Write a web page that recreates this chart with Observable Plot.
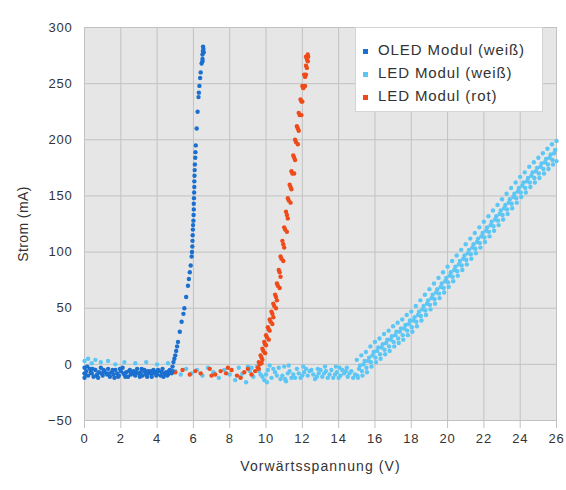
<!DOCTYPE html>
<html>
<head>
<meta charset="utf-8">
<script src="https://cdn.jsdelivr.net/npm/d3@7"></script>
<script src="https://cdn.jsdelivr.net/npm/@observablehq/plot@0.6"></script>
<style>
  body { margin: 0; background: #fff; font-family: "Liberation Sans", Arial, sans-serif; }
  #wrap { position: relative; width: 566px; height: 490px; }
  #legend { position: absolute; left: 355px; top: 27px; width: 188px; height: 85px; background: #fff;
    border: 1px solid #d4d4d4; box-sizing: border-box; padding: 10px 0 0 7px; font-size: 15px; color: #333;
    letter-spacing: 0.9px; }
  #legend div { height: 23px; line-height: 23px; white-space: nowrap; }
  #legend span.sw { display: inline-block; width: 5px; height: 5px; margin-right: 10px; vertical-align: middle; }
  g[aria-label="x-axis tick label"] text, g[aria-label="y-axis tick label"] text { letter-spacing: 0.8px; }
  g[aria-label="x-axis label"] text { letter-spacing: 1.1px; }
  g[aria-label="y-axis label"] text { letter-spacing: 0.4px; }
</style>
</head>
<body>
<div id="wrap"><div id="chart"></div><div id="legend"></div></div>
<script>
const seriesNames = ["OLED Modul (weiß)", "LED Modul (weiß)", "LED Modul (rot)"];
const seriesColors = ["#1a6fcf", "#5cc6f5", "#ef4b1a"];
const xTicks = [0, 2, 4, 6, 8, 10, 12, 14, 16, 18, 20, 22, 24, 26];
const yTicks = [-50, 0, 50, 100, 150, 200, 250, 300];

// OLED Modul (weiß): [Spannung V, Strom mA]
const oledPoints = [
  [0,-8],[0,-3],[0,-12],[0.1,-6],[0.2,-10],[0.3,-4],[0.4,-8],[0.5,-11],[0.6,-5],[0.7,-9],[0.8,-7],[0.9,-3],
  [1.0,-10],[1.1,-6],[1.2,-8],[1.3,-4],[1.4,-11],[1.5,-7],[1.6,-9],[1.7,-5],[1.8,-8],[1.9,-10],[2.0,-6],
  [2.1,-3],[2.2,-9],[2.3,-7],[2.4,-11],[2.5,-5],[2.6,-8],[2.7,-6],[2.8,-10],[2.9,-4],[3.0,-8],[3.1,-7],
  [3.2,-10],[3.3,-5],[3.4,-9],[3.5,-6],[3.6,-8],[3.7,-11],[3.8,-5],[3.9,-7],[4.0,-9],[4.1,-6],[4.2,-10],
  [4.3,-4],[4.4,-8],[4.5,-7],[4.6,-9],[4.7,-5],[4.8,-8],[4.85,-6],
  [0.05,-9],[0.35,-7],[0.65,-10],[0.95,-8],[1.25,-9],[1.55,-5],[1.85,-11],[2.15,-8],[2.45,-6],[2.75,-9],
  [3.05,-11],[3.35,-7],[3.65,-6],[3.95,-10],[4.25,-7],[4.55,-10],[4.75,-7],
  [0.15,-2],[0.45,-4],[0.75,-12],[1.05,-5],[1.35,-8],[1.65,-12],[1.95,-4],[2.25,-11],[2.55,-9],[2.85,-7],
  [3.15,-4],[3.45,-11],[3.75,-8],[4.05,-5],[4.35,-11],[4.65,-6],
  [4.85,-2],[4.9,2],[4.95,5],[5.0,8],[5.05,12],[5.1,16],[5.15,20],[5.25,29],[5.35,38],[5.45,45],[5.5,50],
  [5.6,60],[5.7,70],[5.75,76],[5.8,82],[5.85,88],[5.9,96],[5.92,100],[5.94,105],[5.95,110],[5.96,115],
  [5.97,120],[5.98,124],[6.0,128],[6.01,133],[6.02,138],[6.02,143],[6.03,148],[6.04,153],[6.05,158],
  [6.05,163],[6.06,168],[6.07,173],[6.08,178],[6.1,184],[6.11,189],[6.13,195],[6.18,210],[6.23,225],
  [6.28,238],[6.3,242],[6.33,248],[6.37,255],[6.4,260],[6.45,268],[6.5,272],[6.5,276],[6.52,279],
  [6.55,281],[6.53,283],[6.57,278],[6.5,270]
];

// LED Modul (weiß)
const ledWeissPoints = [
  [0,3],[0.2,5],[0.4,1],[0.6,4],[0.9,2],[1.3,3],[1.7,0],[2.2,2],[2.8,1],[3.4,2],[4.0,0],[4.6,1],
  [5.0,-6],[5.3,-9],[5.6,-4],[5.9,-8],[6.2,-5],[6.5,-10],[6.8,-3],[7.1,-7],[7.4,-12],[7.7,-5],[8.0,-9],
  [8.3,-14],[8.5,-3],[8.7,-8],[8.9,-16],[9.1,-6],[9.3,-11],[9.5,-2],[9.7,-9],[9.9,-14],[10.1,-5],[10.3,-12],
  [10.5,-7],[10.7,-3],[10.9,-10],[11.1,-15],[11.3,-6],[11.5,-9],[11.7,-4],[11.9,-12],[12.1,-7],[12.3,-10],
  [12.5,-5],[12.7,-13],[12.9,-8],[13.1,-11],[13.3,-6],[13.5,-9],[13.7,-12],[13.9,-7],[14.1,-10],[14.3,-8],
  [14.5,-11],[14.7,-6],[14.9,-9],
  [8.6,-11],[9.0,-2],[10.0,-9],[10.2,-1],[10.8,-13],[11.0,-2],[11.4,-12],[11.8,-8],[12.2,-4],[12.6,-9],
  [13.0,-5],[13.4,-12],[13.8,-9],[14.2,-5],[14.6,-8],[14.8,-12],
  [9.6,-6],[9.8,-11],[10.4,-4],[10.6,-10],[11.2,-8],[11.6,-12],[12.0,-10],[12.4,-6],[12.8,-11],[13.2,-8],
  [13.6,-5],[14.0,-12],[14.4,-6],[9.2,-3],[10.05,-16],[11.05,-13],[11.25,-1],[12.05,-2],[13.25,-2],
  [14.05,-3],[14.45,-3],[13.85,-2],[12.85,-4],
  [15.0,4],[15.25,8],[15.5,11],[15.75,16],[16.0,20],[16.25,23],[16.5,27],[16.75,30],[17.0,34],[17.25,37],
  [17.5,40],[17.75,44],[18.0,47],[18.25,52],[18.5,57],[18.75,62],[19.0,67],[19.25,72],[19.5,77],[19.75,82],
  [20.0,87],[20.25,92],[20.5,97],[20.75,102],[21.0,107],[21.25,112],[21.5,117],[21.75,122],[22.0,127],
  [22.25,132],[22.5,137],[22.75,142],[23.0,147],[23.25,152],[23.5,157],[23.75,162],[24.0,167],[24.25,171],
  [24.5,176],[24.75,180],[25.0,184],[25.25,188],[25.5,192],[25.75,196],[26.0,199],
  [15.18,-1],[15.43,3],[15.68,6],[15.93,11],[16.18,15],[16.43,18],[16.68,22],[16.93,25],[17.18,29],
  [17.43,32],[17.68,35],[17.93,39],[18.18,42],[18.43,47],[18.68,52],[18.93,57],[19.18,62],[19.43,67],
  [19.68,72],[19.93,77],[20.18,82],[20.43,87],[20.68,92],[20.93,97],[21.18,102],[21.43,107],[21.68,112],
  [21.93,117],[22.18,122],[22.43,127],[22.68,132],[22.93,137],[23.18,142],[23.43,147],[23.68,152],
  [23.93,157],[24.18,162],[24.43,166],[24.68,171],[24.93,175],[25.18,179],[25.43,183],[25.68,187],[25.93,191],
  [15.12,-4],[15.37,0],[15.62,3],[15.87,8],[16.12,12],[16.37,15],[16.62,19],[16.87,22],[17.12,26],[17.37,29],
  [17.62,32],[17.87,36],[18.12,39],[18.37,44],[18.62,49],[18.87,54],[19.12,59],[19.37,64],[19.62,69],
  [19.87,74],[20.12,79],[20.37,84],[20.62,89],[20.87,94],[21.12,99],[21.37,104],[21.62,109],[21.87,114],
  [22.12,119],[22.37,124],[22.62,129],[22.87,134],[23.12,139],[23.37,144],[23.62,149],[23.87,154],
  [24.12,159],[24.37,163],[24.62,168],[24.87,172],[25.12,176],[25.37,180],[25.62,184],[25.87,188],
  [15.03,-10],[15.28,-6],[15.53,-3],[15.78,2],[16.03,6],[16.28,9],[16.53,13],[16.78,16],[17.03,20],
  [17.28,23],[17.53,26],[17.78,30],[18.03,33],[18.28,38],[18.53,43],[18.78,48],[19.03,53],[19.28,58],
  [19.53,63],[19.78,68],[20.03,73],[20.28,78],[20.53,83],[20.78,88],[21.03,93],[21.28,98],[21.53,103],
  [21.78,108],[22.03,113],[22.28,118],[22.53,123],[22.78,128],[23.03,133],[23.28,138],[23.53,143],
  [23.78,148],[24.03,153],[24.28,157],[24.53,162],[24.78,166],[25.03,170],[25.28,174],[25.53,178],[25.78,182],
  [15.06,-12],[15.31,-10],[15.56,-7],[15.81,-2],[16.06,2],[16.31,5],[16.56,9],[16.81,12],[17.06,16],
  [17.31,19],[17.56,22],[17.81,26],[18.06,29],[18.31,34],[18.56,39],[18.81,44],[19.06,49],[19.31,54],
  [19.56,59],[19.81,64],[20.06,69],[20.31,74],[20.56,79],[20.81,84],[21.06,89],[21.31,94],[21.56,99],
  [21.81,104],[22.06,109],[22.31,114],[22.56,119],[22.81,124],[23.06,129],[23.31,134],[23.56,139],
  [23.81,144],[24.06,149],[24.31,153],[24.56,158],[24.81,162],[25.06,166],[25.31,170],[25.56,174],
  [25.81,178],[26.0,181]
];

// LED Modul (rot)
const ledRotPoints = [
  [5.0,-7],[5.4,-5],[5.8,-9],[6.1,-6],[6.4,-8],[6.9,-4],[7.2,-9],[7.5,-6],[7.8,-8],[8.1,-5],[8.4,-10],
  [8.8,-7],[9.0,-4],[9.2,-9],[9.4,-6],[7.0,-10],[7.9,-3],[8.6,-12],
  [9.55,-3],[9.6,2],[9.7,8],[9.8,14],[9.9,20],[10.0,26],[10.1,33],[10.2,40],[10.3,47],[10.4,54],[10.5,62],
  [10.6,72],[10.7,84],[10.8,96],[10.9,110],[11.0,122],[11.1,136],[11.2,148],[11.3,160],[11.4,172],
  [11.5,186],[11.6,200],[11.7,212],[11.8,224],[11.9,236],[12.0,248],[12.1,258],[12.2,266],[12.25,272],
  [12.3,276],[12.2,274],[12.3,270],
  [9.65,0],[9.75,6],[9.85,12],[9.95,18],[10.05,24],[10.15,31],[10.25,38],[10.35,45],[10.45,52],[10.55,60],
  [10.65,70],[10.75,82],[10.85,94],[10.95,107],[11.05,120],[11.15,133],[11.25,146],[11.35,158],[11.45,170],
  [11.55,184],[11.65,198],[11.75,210],[11.85,222],[11.95,234],[12.05,246],[12.15,256],[12.25,264],
  [9.75,1],[9.95,10],[10.15,22],[10.35,36],[10.55,50],[10.75,68],[10.95,92],[11.15,118],[11.35,144],
  [11.55,170],[11.75,196],[11.95,222],[12.15,248],
  [9.6,-4],[9.8,4],[10.0,17],[10.2,30],[10.4,42],[10.6,57],[10.8,78],[11.0,104],[11.2,130],[11.4,156],
  [11.6,182],[11.8,208],[12.0,234],[12.2,258],[12.32,274]
];

const rows = [
  ...ledWeissPoints.map(([v, i]) => ({v, i, s: seriesNames[1]})),
  ...ledRotPoints.map(([v, i]) => ({v, i, s: seriesNames[2]})),
  ...oledPoints.map(([v, i]) => ({v, i, s: seriesNames[0]}))
];

const chart = Plot.plot({
  width: 566,
  height: 490,
  marginLeft: 84,
  marginRight: 10,
  marginTop: 27,
  marginBottom: 70,
  style: {fontFamily: "Liberation Sans, Arial, sans-serif", fontSize: "13px", color: "#333", background: "#fff"},
  x: {domain: [0, 26]},
  y: {domain: [-50, 300]},
  color: {domain: seriesNames, range: seriesColors},
  marks: [
    Plot.frame({fill: "#e6e6e6", stroke: null}),
    Plot.gridX(xTicks, {stroke: "#c2c2c2", strokeOpacity: 1}),
    Plot.gridY(yTicks, {stroke: "#c2c2c2", strokeOpacity: 1}),
    Plot.dot(rows, {x: "v", y: "i", fill: "s", r: 2.2, stroke: null}),
    Plot.axisX(xTicks, {tickSize: 8, tickPadding: 5, stroke: "#c2c2c2", fontSize: 13, label: null}),
    Plot.axisX({ticks: [], label: "Vorwärtsspannung (V)", labelAnchor: "center", labelArrow: "none",
      labelOffset: 50, fontSize: 14}),
    Plot.axisY(yTicks, {tickSize: 0, tickPadding: 12, fontSize: 13, label: null}),
    Plot.axisY({ticks: [], label: "Strom (mA)", labelAnchor: "center", labelArrow: "none",
      labelOffset: 66, fontSize: 14})
  ]
});
document.getElementById("chart").appendChild(chart);

const legend = document.getElementById("legend");
seriesNames.forEach((name, k) => {
  const row = document.createElement("div");
  const sw = document.createElement("span");
  sw.className = "sw";
  sw.style.background = seriesColors[k];
  row.appendChild(sw);
  row.appendChild(document.createTextNode(name));
  legend.appendChild(row);
});
</script>
</body>
</html>
